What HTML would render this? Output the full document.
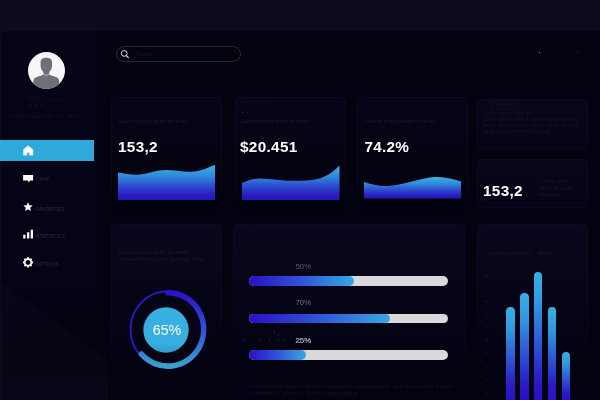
<!DOCTYPE html>
<html lang="en">
<head>
<meta charset="utf-8">
<title>Dashboard</title>
<style>
*{box-sizing:border-box;margin:0;padding:0}
html,body{width:600px;height:400px;overflow:hidden;background:#0d0a20;font-family:"Liberation Sans",sans-serif}
.abs{position:absolute}
#dash{position:absolute;left:1px;top:31px;width:599px;height:369px;background:#03020f;border-top-left-radius:7px;overflow:hidden}
#side{position:absolute;left:0;top:0;width:95px;height:369px;background:linear-gradient(180deg,#050316 0%,#050316 62%,#03020f 82%)}
#page{position:absolute;left:0;top:0;width:600px;height:400px;overflow:hidden}
.avatar{left:28.3px;top:51.5px;width:37px;height:37px;border-radius:50%;background:#f7f7f9;overflow:hidden}
.faint{color:#14142b;font-size:5px;line-height:6px;white-space:nowrap;letter-spacing:.1px}
.active{left:0;top:139.75px;width:93.75px;height:20.75px;background:#2fa9da}
.lbl{color:#30304a;font-size:4.7px;letter-spacing:.22px;white-space:nowrap;line-height:5px}
.search{left:115.5px;top:46.25px;width:125.25px;height:15.5px;border:1px solid #272741;border-radius:8px;background:#04030d}
.card{background:linear-gradient(180deg,#08071c 0%,#060518 35%,#030210 78%) padding-box,linear-gradient(180deg,#0c0b25 0%,#0a0920 40%,#04030f 85%) border-box;border:1px solid transparent;border-radius:5px}
.card.rc{background:linear-gradient(180deg,#07061a 0%,#050416 100%) padding-box,linear-gradient(180deg,#0c0b25 0%,#09081e 100%) border-box}
.card.r1{background:linear-gradient(180deg,#060518 0%,#040312 50%,#03020f 100%) padding-box,linear-gradient(180deg,#0c0b24 0%,#0a0920 100%) border-box;-webkit-mask-image:linear-gradient(180deg,#000 0%,#000 75%,transparent 100%);mask-image:linear-gradient(180deg,#000 0%,#000 75%,transparent 100%)}
.big{color:#fff;font-weight:bold;font-size:15.3px;line-height:16px;white-space:nowrap;letter-spacing:.32px}
.ctext{color:#1a1a33;font-size:5.7px;line-height:6.4px;white-space:nowrap}
.track{height:9.5px;border-radius:5px;background:#d9d9da;overflow:hidden}
.fill{height:100%;border-radius:0 5px 5px 0;background:linear-gradient(90deg,#2a0fc4 0%,#2f55d8 50%,#36a9e0 100%)}
.pct{color:#6b6b80;font-size:7.8px;line-height:9px;white-space:nowrap}
.bar{width:8.4px;border-radius:4.2px 4.2px 0 0;background:linear-gradient(180deg,#36b0e4 0%,#3196de 25%,#2d4cd4 60%,#2a1ac6 85%,#2a10c4 100%)}
.ax{color:#1c1c38;font-size:3.5px;line-height:4px}
</style>
</head>
<body>
<div id="page">
<div id="dash"><div id="side"></div></div>

<svg class="abs" style="left:0;top:270px" width="112" height="130" viewBox="0 0 112 130"><polygon points="1,12 108,90 108,130 1,130" fill="#8080c0" fill-opacity=".03"/><rect x="1" y="108" width="107" height="22" fill="#8080c0" fill-opacity=".025"/></svg>
<!-- avatar -->
<div class="abs avatar">
<svg width="37" height="37" viewBox="0 0 37 37">
<path d="M18.300 5.700C15.200 5.700 12.800 6.900 12.500 10L12.600 14.200C12.800 16.200 13.600 17.900 14.600 19.100C15.200 19.900 15.500 20.600 15.500 21.600V22.600C13.500 23.800 10.500 24.400 8.200 25.300C6 26.200 5.200 27.800 5.200 30.500V37H31.400V30.500C31.400 27.800 30.600 26.200 28.400 25.300C26.100 24.400 23.100 23.800 21.100 22.600V21.600C21.100 20.600 21.400 19.900 22 19.100C23 17.900 23.800 16.200 24 14.200L24.100 10C23.800 6.900 21.400 5.700 18.300 5.700Z" fill="#6e7079"/>
<path d="M15 21.700Q18.300 24.800 21.600 21.700" fill="none" stroke="#d8d8dc" stroke-width=".6"/>
</svg>
</div>
<div class="abs faint" style="left:27px;top:94px">Lorem</div>
<div class="abs faint" style="left:50px;top:97px">ipsum</div>
<div class="abs faint" style="left:27px;top:102px">sit amet</div>
<div class="abs faint" style="left:12px;top:112.500px">Lorem ipsum dolor sit &nbsp;&nbsp; amet</div>

<!-- menu -->
<div class="abs active"></div>
<svg class="abs" style="left:22px;top:144px" width="13" height="13" viewBox="0 0 13 13">
<path d="M6.150 1.700L10.800 5.600V11.150H7.450V8.500H4.850V11.150H1.500V5.600z" fill="#ffffff" stroke="#ffffff" stroke-width=".4" stroke-linejoin="round"/>
</svg>
<svg class="abs" style="left:22px;top:174px" width="13" height="10" viewBox="0 0 13 10">
<path d="M1.100 1h10v5.600H8l-1.300 2.200L6 6.600H1.100z" fill="#ffffff"/>
</svg>
<div class="abs lbl" style="left:36.300px;top:176.700px">CHAT</div>
<svg class="abs" style="left:22px;top:201px" width="13" height="12" viewBox="0 0 13 12">
<path d="M6 1.200l1.400 3 3.200.3-2.400 2.200.7 3.200L6 8.300 3.100 9.900l.7-3.200L1.400 4.500l3.200-.3z" fill="#ffffff"/>
</svg>
<div class="abs lbl" style="left:36.300px;top:206.500px">FAVORITES</div>
<svg class="abs" style="left:22px;top:228px" width="13" height="12" viewBox="0 0 13 12">
<rect x="1.200" y="6.750" width="2.300" height="3.750" fill="#fff"/>
<rect x="5" y="4.250" width="2.300" height="6.250" fill="#fff"/>
<rect x="8.700" y="1.750" width="2.300" height="8.750" fill="#fff"/>
</svg>
<div class="abs lbl" style="left:36.300px;top:234px">STATISTICS</div>
<svg class="abs" style="left:22px;top:256px" width="13" height="13" viewBox="0 0 13 13">
<g transform="translate(6 6.400)" fill="none" stroke="#fff">
<circle r="3.300" stroke-width="1.700"/>
<g stroke-width="2">
<line x1="0" y1="-5.100" x2="0" y2="-3.500"/><line x1="0" y1="5.100" x2="0" y2="3.500"/>
<line x1="-5.100" y1="0" x2="-3.500" y2="0"/><line x1="5.100" y1="0" x2="3.500" y2="0"/>
<line x1="-3.600" y1="-3.600" x2="-2.500" y2="-2.500"/><line x1="3.600" y1="3.600" x2="2.500" y2="2.500"/>
<line x1="-3.600" y1="3.600" x2="-2.500" y2="2.500"/><line x1="3.600" y1="-3.600" x2="2.500" y2="-2.500"/>
</g></g>
</svg>
<div class="abs lbl" style="left:36.300px;top:261.500px">OPTIONS</div>

<!-- search -->
<div class="abs search"></div>
<svg class="abs" style="left:119px;top:48px" width="12" height="12" viewBox="0 0 12 12">
<circle cx="5.200" cy="5.400" r="2.900" fill="none" stroke="#dcdce4" stroke-width="1"/>
<line x1="7.400" y1="7.700" x2="9.300" y2="9.700" stroke="#dcdce4" stroke-width="1.200" stroke-linecap="round"/>
</svg>
<div class="abs" style="left:136px;top:51px;color:#1a1a33;font-size:5.200px;line-height:6px">Search</div>
<div class="abs" style="left:538.600px;top:51.700px;width:1.600px;height:1.600px;border-radius:50%;background:#c8c8d8"></div>
<div class="abs" style="left:576.700px;top:51.900px;width:1.600px;height:1.600px;border-radius:50%;background:#3a3a55"></div>

<!-- row 1 cards -->
<div class="abs card r1" style="left:110.750px;top:97.400px;width:111px;height:113px"></div>
<div class="abs ctext" style="left:119px;top:117.500px">Lorem ipsum dolor sit amet</div>
<div class="abs big" style="left:118px;top:139.400px">153,2</div>
<svg class="abs" style="left:117.750px;top:160px" width="97" height="40" viewBox="0 0 97 40" preserveAspectRatio="none">
<defs><linearGradient id="g1" x1="0" y1="0" x2="0" y2="1"><stop offset="0" stop-color="#3ab2e4"/><stop offset=".3" stop-color="#318cdc"/><stop offset=".6" stop-color="#2d4cd0"/><stop offset=".85" stop-color="#2a1ec0"/><stop offset="1" stop-color="#2a14b8"/></linearGradient></defs>
<path d="M0 12.500C8 13.500 14 15.500 22 14.500S38 10 48 10S66 12.500 76 11.500S90 7 97 5V40H0z" fill="url(#g1)"/>
</svg>

<div class="abs card r1" style="left:235px;top:97.400px;width:110.500px;height:113px"></div>
<div class="abs ctext" style="left:246px;top:99px;font-size:4.500px;color:#111128">Lorem ipsum</div>
<div class="abs" style="left:241.800px;top:111.800px;width:1.600px;height:1.600px;border-radius:50%;background:#1f4fa0"></div>
<div class="abs ctext" style="left:246px;top:110px;font-size:4.500px;color:#111128">sit</div>
<div class="abs ctext" style="left:240.500px;top:117.500px">Lorem ipsum dolor sit amet</div>
<div class="abs big" style="left:240px;top:139.400px">$20.451</div>
<svg class="abs" style="left:242px;top:160px" width="97.500" height="40" viewBox="0 0 97.500 40" preserveAspectRatio="none">
<path d="M0 23C6 20.600 11 18.600 17.500 18.600S32 19.800 42 20.400S63 21 73 19.400S91 12 97.500 5.400V40H0z" fill="url(#g1)"/>
</svg>

<div class="abs card r1" style="left:357px;top:97.400px;width:110.500px;height:113px"></div>
<div class="abs ctext" style="left:366px;top:117.500px">Lorem ipsum dolor sit amet</div>
<div class="abs big" style="left:364.500px;top:139.400px;letter-spacing:.25px">74.2%</div>
<svg class="abs" style="left:363.750px;top:160px" width="97.500" height="39" viewBox="0 0 97.500 39" preserveAspectRatio="none">
<path d="M0 22C7 24 15 26.500 24 26S42 23 52 20.500S68 16.500 75 17S90 19 97.500 21.800V38.600H0z" fill="url(#g1)"/>
</svg>

<!-- right column -->
<div class="abs card rc" style="left:477px;top:99px;width:111px;height:50px"></div>
<div class="abs ctext" style="left:490px;top:101.500px;font-size:5px;line-height:4.600px;color:#131329">Lorem ipsum<br>dolor sit amet,<br></div>
<div class="abs ctext" style="left:483px;top:111.200px;font-size:5px;line-height:5.900px;color:#15152d">Lorem ipsum dolor sit<br>Lorem ipsum dolor sit amet, consectetuer<br>ipsum dolor sit amet, Lorem ipsum dolor sit<br>amet, consectetuer adipiscing.</div>

<div class="abs card rc" style="left:477px;top:158.750px;width:111px;height:49px"></div>
<div class="abs big" style="left:483px;top:183.400px">153,2</div>
<div class="abs ctext" style="left:539px;top:178.300px;font-size:5.600px;line-height:6.500px;color:#15152d">Lorem ipsum<br>dolor sit amet,<br>consecte</div>

<!-- row 2 -->
<div class="abs card" style="left:110.750px;top:223.600px;width:111px;height:185px"></div>
<div class="abs ctext" style="left:119px;top:249px;line-height:7px">Lorem ipsum dolor sit amet,<br>consectetuer ipsum dolor sit amet,</div>
<svg class="abs" style="left:122px;top:284px" width="92" height="92" viewBox="0 0 92 92">
<defs><linearGradient id="g3" x1="0" y1="0" x2="0" y2="1"><stop offset="0" stop-color="#37b0e3"/><stop offset=".8" stop-color="#36aee0"/><stop offset="1" stop-color="#2f9bcc"/></linearGradient><linearGradient id="g2" x1="0" y1="0" x2="0" y2="1"><stop offset="0" stop-color="#2a14c8"/><stop offset=".5" stop-color="#2f50d8"/><stop offset="1" stop-color="#3aa0cc"/></linearGradient></defs>
<g transform="translate(0 45.400) scale(1 1.025) translate(0 -45.400)">
<circle cx="45.900" cy="45.400" r="37.400" fill="none" stroke="#2a18d0" stroke-width="1.800"/>
<path d="M45.900 9.600A35.800 35.800 0 1 1 19.300 69.350" fill="none" stroke="url(#g2)" stroke-width="5.400" stroke-linecap="round"/>
</g>
<circle cx="44" cy="46" r="22.700" fill="url(#g3)"/>
</svg>
<div class="abs" style="left:152.700px;top:322.700px;color:#fff;font-size:14.300px;line-height:15px;white-space:nowrap">65%</div>

<div class="abs card" style="left:232.500px;top:223.600px;width:232px;height:185px"></div>
<div class="abs pct" style="left:295.500px;top:261.500px;color:#5c5c70">50%</div>
<div class="abs track" style="left:249.250px;top:276.250px;width:199px"><div class="fill" style="width:104.500px"></div></div>
<div class="abs pct" style="left:295.500px;top:298px;color:#77778a">70%</div>
<div class="abs track" style="left:249.250px;top:313.500px;width:199px"><div class="fill" style="width:141px"></div></div>
<div class="abs" style="left:244.0px;top:338.5px;width:1px;height:3px;background:#15152e"></div>
<div class="abs" style="left:258.7px;top:338.5px;width:1px;height:3px;background:#15152e"></div>
<div class="abs" style="left:269.2px;top:338.5px;width:1px;height:3px;background:#15152e"></div>
<div class="abs" style="left:273.5px;top:331.0px;width:1px;height:3px;background:#15152e"></div>
<div class="abs" style="left:278.0px;top:332.5px;width:1px;height:3px;background:#15152e"></div>
<div class="abs" style="left:278.0px;top:338.8px;width:1px;height:3px;background:#15152e"></div>
<div class="abs" style="left:283.4px;top:337.5px;width:1px;height:3px;background:#15152e"></div>
<div class="abs pct" style="left:295.500px;top:335.500px;color:#b0b0c0;-webkit-text-stroke:.2px #b0b0c0">25%</div>
<div class="abs track" style="left:249.250px;top:350px;width:199px"><div class="fill" style="width:56.500px"></div></div>
<div class="abs ctext" style="left:250px;top:383px;line-height:6.800px;color:#13132a">Lorem ipsum dolor sit amet, consectetuer adipiscing elit, sed do eiusmod tempor<br>incididunt ut labore et dolore magna aliqua.</div>

<div class="abs card" style="left:476.500px;top:223.600px;width:111.500px;height:185px"></div>
<div class="abs ctext" style="left:485px;top:250px">Lorem ipsum dolor &nbsp;&nbsp; amet</div>
<div class="abs bar" style="left:506.200px;top:307.300px;height:93px"></div>
<div class="abs bar" style="left:520.200px;top:293px;height:107px"></div>
<div class="abs bar" style="left:534px;top:272px;height:128px"></div>
<div class="abs bar" style="left:547.700px;top:307.300px;height:93px"></div>
<div class="abs bar" style="left:561.600px;top:351.700px;height:49px"></div>
<div class="abs ax" style="left:485.500px;top:270px;line-height:13px">80<br>70<br>60<br>50<br>40<br>30<br>20<br>10<br>00<br>00</div>
</div>
</body>
</html>
